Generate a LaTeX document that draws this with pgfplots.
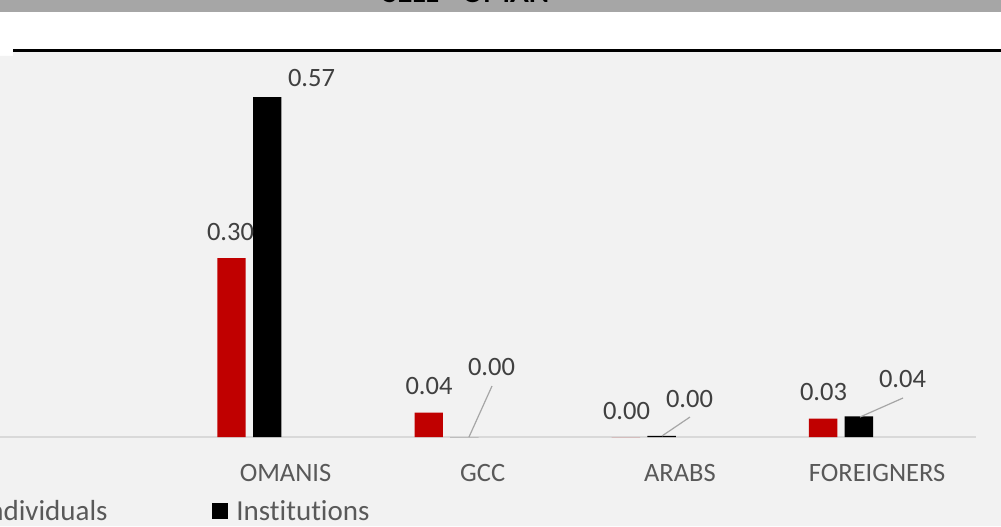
\documentclass[border=0pt]{standalone}
\usepackage{fontspec}
\setmainfont{Carlito}[Ligatures=NoCommon]
\usepackage{pgfplots}
\pgfplotsset{compat=1.18}
\definecolor{bandgray}{HTML}{A6A6A6}
\definecolor{bg}{HTML}{F2F2F2}
\definecolor{myred}{HTML}{C00000}
\definecolor{txt}{HTML}{595959}
\definecolor{lblcol}{HTML}{404040}
\definecolor{axisgray}{HTML}{D9D9D9}
\definecolor{leadgray}{HTML}{A6A6A6}
\tikzset{
  lbl/.style={font=\fontsize{13.25}{13.25}\selectfont, text=lblcol, inner sep=0pt, anchor=center},
  leader/.style={draw=leadgray, line width=0.6pt},
}
\begin{document}
\begin{tikzpicture}
\begin{scope}
\clip (0pt,0pt) rectangle (500.5pt,263pt);
\begin{scope}[x=0.5pt,y=0.5pt]
 \fill[white] (0,0) rectangle (1001,526);
 \fill[bandgray] (0,514) rectangle (1001,526);
 \node[font=\bfseries\fontsize{15.5}{15.5}\selectfont, anchor=base, inner sep=0pt] at (466,523.5) {SELL - OMAN};
 \fill[bg] (0,0) -- (0,470) -- (13,470) -- (13,474) -- (1001,474) -- (1001,0) -- cycle;
 \fill[black] (13,474) rectangle (1001,477.3);
 % legend
 \fill[myred] (-42,7) rectangle (-26,23);
 \node[anchor=base east, inner sep=0pt, font=\fontsize{14.5}{14.5}\selectfont, text=txt] at (108,6) {Individuals};
 \fill[black] (212,7) rectangle (228,23);
 \node[anchor=base west, inner sep=0pt, font=\fontsize{14.5}{14.5}\selectfont, text=txt] at (236,6) {Institutions};
\end{scope}
\begin{axis}[
  at={(-5.15pt,44.5pt)}, anchor=south west,
  scale only axis, width=493pt, height=193.86pt,
  xmin=-0.5, xmax=4.5, ymin=0, ymax=0.65,
  axis y line=none, axis x line=bottom,
  x axis line style={draw=axisgray, line width=0.75pt, -},
  xtick={1,2,3,4}, xticklabels={OMANIS,GCC,ARABS,FOREIGNERS},
  major tick length=0pt, ytick=\empty,
  xticklabel style={font=\fontsize{13.25}{13.25}\selectfont, text=txt, inner sep=0pt, anchor=north, yshift=-13.5pt},
  ybar, bar width=14.2pt,
  clip=false,
]
\addplot[fill=myred, draw=none, bar shift=-27pt] coordinates {(1,0.300) (2,0.041) (3,0) (4,0.031)};
\addplot[fill=black, draw=none, bar shift=-9.15pt] coordinates {(1,0.570) (2,0) (3,0.002) (4,0.0345)};
\node[lbl] at (axis cs:0.7211,0.3437) {0.30};
\node[lbl] at (axis cs:1.1318,0.6018) {0.57};
\node[lbl] at (axis cs:1.7277,0.0847) {0.04};
\node[lbl] at (axis cs:2.0446,0.1174) {0.00};
\node[lbl] at (axis cs:2.7292,0.0436) {0.00};
\node[lbl] at (axis cs:3.0487,0.0637) {0.00};
\node[lbl] at (axis cs:3.7282,0.0754) {0.03};
\node[lbl] at (axis cs:4.1288,0.0964) {0.04};
\draw[leader] (axis cs:1.9305,0) -- (axis cs:2.0472,0.0855);
\draw[leader] (axis cs:2.9092,0.0017) -- (axis cs:3.0512,0.0335);
\draw[leader] (axis cs:3.9133,0.0335) -- (axis cs:4.1314,0.0654);
\end{axis}
\end{scope}
\pgfresetboundingbox
\path[use as bounding box] (0pt,0pt) rectangle (500.5pt,263pt);
\end{tikzpicture}
\end{document}
